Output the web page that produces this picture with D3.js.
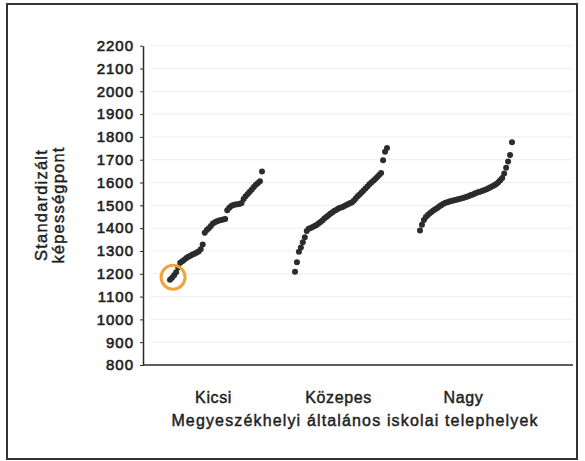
<!DOCTYPE html>
<meta charset="utf-8">
<style>
    body {
        margin: 0;
        background-color: #ffffff;
    }
    text {
        font-family: "Liberation Sans", Arial, sans-serif;
        fill: #1e1e1e;
        stroke: #1e1e1e;
        stroke-width: 0.45px;
    }
    .axis path, .axis line {
        stroke: #2a2a2a;
    }
    .axis text {
        font-size: 15px;
        letter-spacing: 1px;
        stroke-width: 0.6px;
    }
    circle.dot {
        fill: #2c2c2c;
    }
</style>
<body>
<script src="https://d3js.org/d3.v7.min.js"></script>
<script>

    var categories = ["Kicsi", "Közepes", "Nagy"];

    // school scores, sorted ascending within each group
    var kicsi = [1174, 1183, 1194, 1207, 1227, 1248, 1255, 1262, 1269, 1275, 1279, 1284, 1288,
        1293, 1298, 1307, 1328, 1380, 1392, 1400, 1410, 1420, 1426, 1430, 1434, 1436, 1438,
        1440, 1478, 1490, 1497, 1501, 1504, 1505, 1506, 1510, 1528, 1540, 1550, 1560, 1570,
        1580, 1590, 1598, 1606, 1648];

    var kozepes = [1209, 1250, 1297, 1315, 1338, 1360, 1388, 1397, 1401, 1405, 1409, 1414,
        1420, 1427, 1434, 1442, 1449, 1456, 1463, 1469, 1475, 1480, 1485, 1489, 1492, 1496,
        1500, 1505, 1509, 1513, 1520, 1530, 1540, 1548, 1556, 1565, 1574, 1583, 1592, 1600,
        1608, 1616, 1624, 1633, 1642, 1698, 1735, 1752];

    var nagy = [1390, 1415, 1436, 1449, 1458, 1465, 1472, 1478, 1484, 1490, 1496, 1502, 1507,
        1511, 1514, 1517, 1519, 1521, 1524, 1526, 1528, 1530, 1532, 1535, 1538, 1541, 1545,
        1548, 1552, 1555, 1558, 1561, 1564, 1567, 1571, 1575, 1579, 1584, 1588, 1594, 1601,
        1610, 1620, 1640, 1665, 1692, 1721, 1777];

    var series = [kicsi, kozepes, nagy];

    var yTicks = d3.range(800, 2201, 100);
    var highlight = {group: 0, rank: 1.5, value: 1185};

    var width = 585, height = 461;

    var svg = d3.select("body").append("svg")
            .attr("width", width)
            .attr("height", height);

    // frame
    svg.append("rect")
            .attr("x", 7)
            .attr("y", 4)
            .attr("width", 570)
            .attr("height", 455)
            .attr("fill", "none")
            .attr("stroke", "#333")
            .attr("stroke-width", 2);

    var y = d3.scaleLinear()
            .domain([800, 2200])
            .range([365, 45.7]);

    var x = d3.scaleBand()
            .domain(categories)
            .range([152, 527]);

    var inner = d3.scaleLinear()
            .domain([0, 1])
            .range([18, 110]);

    function px(g, i, n) {
        return x(categories[g]) + inner(i / (n - 1));
    }

    // faint grid
    svg.append("g")
        .selectAll("line")
        .data(yTicks.slice(1))
        .enter().append("line")
            .attr("x1", 150)
            .attr("x2", 572)
            .attr("y1", function(d) { return y(d); })
            .attr("y2", function(d) { return y(d); })
            .attr("stroke", "#eeeeee")
            .attr("stroke-width", 1);

    var yAxis = d3.axisLeft(y)
            .tickValues(yTicks)
            .tickFormat(d3.format("d"))
            .tickSizeInner(3)
            .tickSizeOuter(0)
            .tickPadding(6);

    svg.append("g")
            .attr("class", "y axis")
            .attr("transform", "translate(143,0)")
            .call(yAxis)
            .call(function(g) { g.select(".domain").attr("stroke-width", 1.5); });

    // x axis line
    svg.append("line")
            .attr("x1", 143)
            .attr("x2", 573)
            .attr("y1", y(800))
            .attr("y2", y(800))
            .attr("stroke", "#2a2a2a")
            .attr("stroke-width", 1.5);

    // dots
    series.forEach(function(values, g) {
        svg.append("g")
            .selectAll("circle")
            .data(values)
            .enter().append("circle")
                .attr("class", "dot")
                .attr("cx", function(d, i) { return px(g, i, values.length); })
                .attr("cy", function(d) { return y(d); })
                .attr("r", 3);
    });

    // highlighted lowest school
    svg.append("circle")
            .attr("cx", px(highlight.group, highlight.rank, series[highlight.group].length))
            .attr("cy", y(highlight.value))
            .attr("r", 12)
            .attr("fill", "none")
            .attr("stroke", "#f0a43a")
            .attr("stroke-width", 3);

    // category labels
    svg.append("g")
        .selectAll("text")
        .data(categories)
        .enter().append("text")
            .attr("x", function(d) { return x(d) + x.bandwidth() / 2 - 1; })
            .attr("y", 403)
            .attr("text-anchor", "middle")
            .style("font-size", "16px")
            .style("letter-spacing", "0.6px")
            .text(function(d) { return d; });

    svg.append("text")
            .attr("x", 355)
            .attr("y", 426)
            .attr("text-anchor", "middle")
            .style("font-size", "16px")
            .style("letter-spacing", "1.15px")
            .text("Megyeszékhelyi általános iskolai telephelyek");

    var yTitle = svg.append("text")
            .attr("transform", "translate(47,205) rotate(-90)")
            .attr("text-anchor", "middle")
            .style("font-size", "16.5px")
            .style("letter-spacing", "1.2px");

    yTitle.append("tspan").attr("x", 0).attr("dy", 0).text("Standardizált");
    yTitle.append("tspan").attr("x", 0).attr("dy", "1.0em").text("képességpont");

</script>
